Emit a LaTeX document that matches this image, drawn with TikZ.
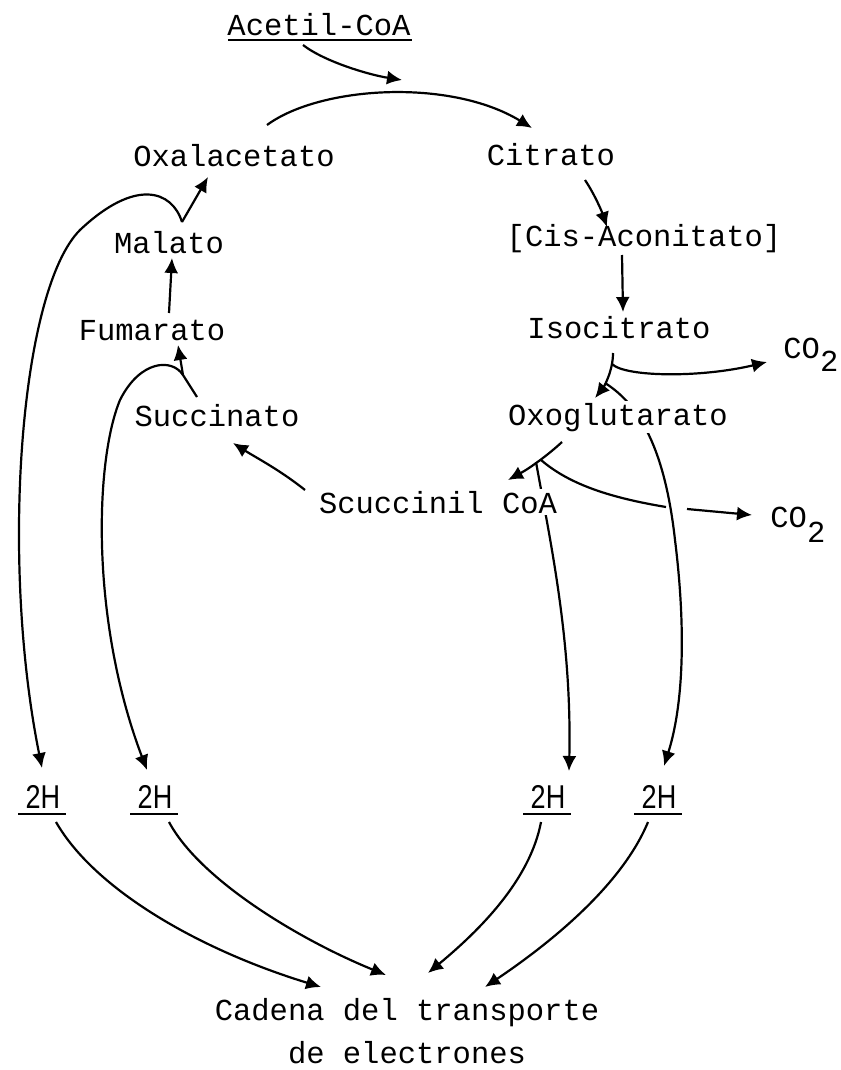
\documentclass[tikz,border=0pt]{standalone}
\usepackage{fontspec}
\newfontfamily\monof{Liberation Mono}
\newfontfamily\hsans{Liberation Sans}
\usetikzlibrary{arrows.meta}
\pgfdeclarelayer{bg}
\pgfsetlayers{bg,main}
\begin{document}
\begin{tikzpicture}[x=0.5pt,y=-0.5pt,
  lbl/.style={font=\monof\fontsize{15.25}{18}\selectfont, inner sep=1pt, anchor=base},
  hlbl/.style={font=\hsans\fontsize{16.5}{18}\selectfont, inner sep=1pt, anchor=base},
  arr/.style={line width=1.1pt, -{Latex[length=7.5pt,width=7pt]}},
  uline/.style={line width=1.3pt},
  mask/.style={fill=white}]
\useasboundingbox (0,0) rectangle (840,1070);
% metabolites
\node[lbl] (acetil) at (319,36) {Acetil-CoA};
\node[lbl] (oxal) at (234,166) {Oxalacetato};
\node[lbl] (citrato) at (551,165) {Citrato};
\node[lbl] (cis) at (644,246) {[Cis-Aconitato]};
\node[lbl] (malato) at (169,253) {Malato};
\node[lbl] (iso) at (619,338) {Isocitrato};
\node[lbl] (fum) at (152,340) {Fumarato};
\node[lbl] (succ) at (217,426) {Succinato};
\node[lbl,mask] (oxo) at (618,425) {Oxoglutarato};
\node[lbl,mask] (scuc) at (438,513) {Scuccinil CoA};
\node[lbl,anchor=base west] (co2a) at (781,358) {CO\raisebox{-6.5pt}{2}};
\node[lbl,anchor=base west] (co2b) at (768,527) {CO\raisebox{-7.5pt}{2}};
% 2H
\node[hlbl] (h1) at (43,808) {\scalebox{0.82}[1]{2H}};
\node[hlbl] (h2) at (155,808) {\scalebox{0.82}[1]{2H}};
\node[hlbl] (h3) at (548,808) {\scalebox{0.82}[1]{2H}};
\node[hlbl] (h4) at (659,808) {\scalebox{0.82}[1]{2H}};
% electron transport chain
\node[lbl] (cad) at (407,1020) {Cadena del transporte};
\node[lbl] (cad2) at (407,1063) {de electrones};

\begin{pgfonlayer}{bg}
% underlines
\draw[uline] ([shift={(-91,4)}]acetil.base) -- ([shift={(93,4)}]acetil.base);
\foreach \h in {h1,h2,h3,h4}
  \draw[uline] ([shift={(-25,6)}]\h.base) -- ([shift={(23,6)}]\h.base);
% Acetil-CoA into the condensation
\coordinate (join) at (402,80);
\draw[arr] ([shift={(-16,9)}]acetil.base) .. controls (325,62) and (370,75) .. (join);
% Oxalacetato -> Citrato
\draw[arr] ([shift={(33,-41)}]oxal.base) .. controls (320,86) and (450,78) .. ([shift={(-19,-37)}]citrato.base);
% Citrato -> Cis-Aconitato
\draw[arr] ([shift={(34,15)}]citrato.base) .. controls (595,195) and (602,212) .. ([shift={(-37,-19)}]cis.base);
% Cis-Aconitato -> Isocitrato
\draw[arr] ([shift={(-22,9)}]cis.base) -- ([shift={(4,-26)}]iso.base);
% Isocitrato -> Oxoglutarato
\draw[arr] ([shift={(-6,15)}]iso.base) .. controls (613,372) and (603,388) .. ([shift={(-23,-27)}]oxo.base);
\coordinate (fA1) at (612,364);
\coordinate (fA2) at (605,383);
\draw[arr] (fA1) .. controls (625,377) and (700,378) .. ([shift={(-14,4)}]co2a.base west);
\draw[arr] (fA2) .. controls (640,405) and (665,450) .. (675,540) .. controls (685,620) and (685,700) .. ([shift={(5,-42)}]h4.base);
% Oxoglutarato -> Scuccinil CoA
\draw[arr] ([shift={(-56,17)}]oxo.base) .. controls (548,455) and (530,468) .. ([shift={(70,-33)}]scuc.base);
\coordinate (fB) at (541,460);
\coordinate (fB2) at (536,462);
\coordinate (gap1) at (666,507);
\coordinate (gap2) at (687,509);
\draw[arr] (fB) .. controls (570,485) and (612,498) .. (gap1) (gap2) -- ([shift={(-16,-12)}]co2b.base west);
\draw[arr] (fB2) .. controls (550,540) and (572,640) .. ([shift={(21,-37)}]h3.base);
% Scuccinil CoA -> Succinato
\draw[arr] ([shift={(-133,-23)}]scuc.base) .. controls (280,470) and (255,457) .. ([shift={(16,17)}]succ.base);
% Succinato -> Fumarato
\coordinate (fC) at (183,375);
\draw[arr] ([shift={(-20,-29)}]succ.base) -- (fC) -- ([shift={(26,5)}]fum.base);
\draw[arr] (fC) .. controls (172,358) and (140,360) .. (120,400) .. controls (95,460) and (90,620) .. ([shift={(-8,-38)}]h2.base);
% Fumarato -> Malato
\draw[arr] ([shift={(17,-27)}]fum.base) -- ([shift={(3,5)}]malato.base);
% Malato -> Oxalacetato
\coordinate (fD) at (182,222);
\draw[arr] (fD) -- ([shift={(-26,11)}]oxal.base);
\draw[arr] (fD) .. controls (172,190) and (135,178) .. (80,230) .. controls (20,290) and (0,560) .. ([shift={(-1,-40)}]h1.base);
% 2H -> transport chain
\draw[arr] ([shift={(13,14)}]h1.base) .. controls (95,890) and (200,950) .. ([shift={(-86,-33)}]cad.base);
\draw[arr] ([shift={(14,14)}]h2.base) .. controls (200,880) and (300,940) .. ([shift={(-21,-45)}]cad.base);
\draw[arr] ([shift={(-7,14)}]h3.base) .. controls (530,880) and (480,930) .. ([shift={(21,-47)}]cad.base);
\draw[arr] ([shift={(-11,14)}]h4.base) .. controls (620,890) and (540,950) .. ([shift={(78,-33)}]cad.base);
\end{pgfonlayer}
\end{tikzpicture}
\end{document}
